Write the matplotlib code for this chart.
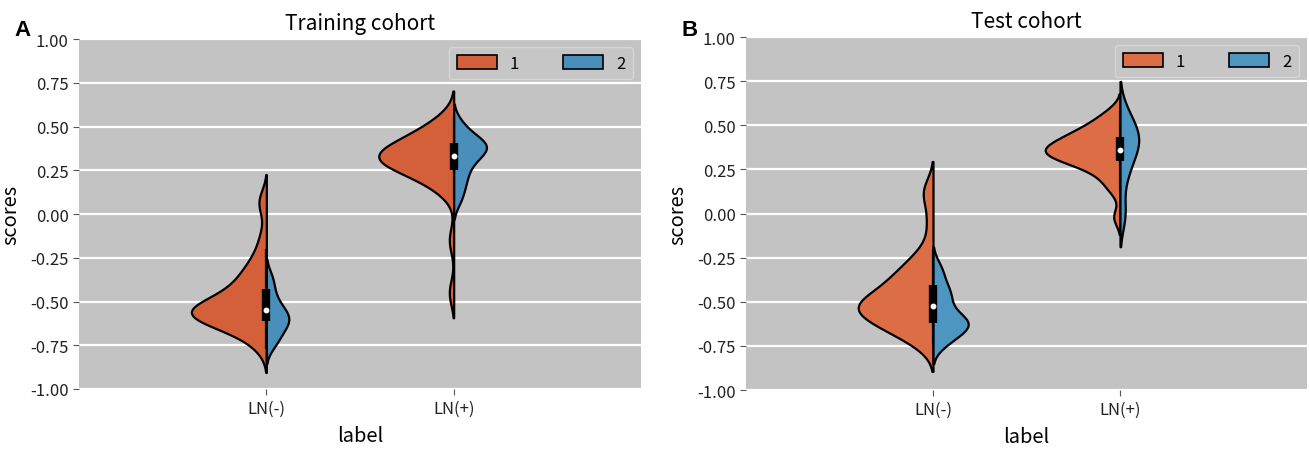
import numpy as np
import matplotlib
matplotlib.use("Agg")
from matplotlib import pyplot as plt
from matplotlib.patches import Patch

plt.rcParams["font.family"] = ["Noto Sans CJK SC", "DejaVu Sans"]
plt.rcParams["axes.unicode_minus"] = False

groups = ["LN(-)", "LN(+)"]
hue_labels = ["1", "2"]

# Training cohort scores (hue 1 / hue 2)
train_neg_1 = [-0.77, -0.72, -0.69, -0.67, -0.65, -0.64, -0.63, -0.62, -0.61, -0.60,
               -0.59, -0.58, -0.57, -0.56, -0.56, -0.55, -0.55, -0.54, -0.53, -0.52,
               -0.51, -0.50, -0.49, -0.48, -0.46, -0.45, -0.43, -0.41, -0.39, -0.37,
               -0.35, -0.32, -0.29, -0.26, -0.20, -0.12, 0.04, 0.09, -0.57, -0.58]
train_neg_2 = [-0.75, -0.71, -0.67, -0.64, -0.62, -0.60, -0.58, -0.56, -0.53, -0.49,
               -0.43, -0.36]
train_pos_1 = [-0.45, -0.15, 0.12, 0.16, 0.19, 0.21, 0.23, 0.25, 0.26, 0.27,
               0.28, 0.29, 0.30, 0.31, 0.32, 0.33, 0.33, 0.34, 0.35, 0.36,
               0.37, 0.38, 0.40, 0.41, 0.42, 0.43, 0.45, 0.47, 0.49, 0.52,
               0.56, 0.32]
train_pos_2 = [0.08, 0.15, 0.20, 0.25, 0.29, 0.32, 0.35, 0.37, 0.38, 0.39,
               0.41, 0.43, 0.46, 0.52]

# Test cohort scores (hue 1 / hue 2)
test_neg_1 = [-0.74, -0.71, -0.68, -0.66, -0.64, -0.63, -0.62, -0.60, -0.58, -0.57,
              -0.56, -0.55, -0.54, -0.53, -0.53, -0.52, -0.51, -0.50, -0.49, -0.47,
              -0.46, -0.44, -0.42, -0.40, -0.38, -0.36, -0.34, -0.32, -0.29, -0.25,
              -0.20, -0.05, 0.10, 0.14]
test_neg_2 = [-0.74, -0.71, -0.68, -0.66, -0.64, -0.62, -0.61, -0.59, -0.56, -0.52,
              -0.48, -0.45, -0.42, -0.36, -0.30, -0.62]
test_pos_1 = [-0.02, 0.13, 0.18, 0.22, 0.25, 0.27, 0.29, 0.30, 0.31, 0.32,
              0.33, 0.34, 0.35, 0.36, 0.36, 0.37, 0.38, 0.39, 0.40, 0.42,
              0.43, 0.44, 0.45, 0.47, 0.49, 0.51, 0.54, 0.58]
test_pos_2 = [0.00, 0.22, 0.33, 0.39, 0.43, 0.47, 0.56]

yticks = [1.00, 0.75, 0.50, 0.25, 0.00, -0.25, -0.50, -0.75, -1.00]


def kde(values, cut=2, gridsize=150, bw_adjust=0.75):
    v = np.asarray(values, dtype=float)
    bw = bw_adjust * v.std(ddof=1) * len(v) ** (-1 / 5)  # scott
    grid = np.linspace(v.min() - cut * bw, v.max() + cut * bw, gridsize)
    dens = np.exp(-0.5 * ((grid[:, None] - v[None, :]) / bw) ** 2).sum(axis=1)
    return grid, dens / dens.max()


def split_violin(ax, pos, left, right, colors, width=0.8):
    n_max = max(len(left), len(right))
    for vals, side, color in ((left, -1, colors[0]), (right, 1, colors[1])):
        y, d = kde(vals)
        w = d * width / 2 * len(vals) / n_max  # scale by count
        ax.fill_betweenx(y, pos, pos + side * w, facecolor=color,
                         edgecolor="black", linewidth=1.6, zorder=2)
    allv = np.concatenate([left, right])
    q1, med, q3 = np.percentile(allv, [25, 50, 75])
    iqr = q3 - q1
    lo = allv[allv >= q1 - 1.5 * iqr].min()
    hi = allv[allv <= q3 + 1.5 * iqr].max()
    ax.vlines(pos, lo, hi, color="black", lw=1.6, zorder=3)
    ax.vlines(pos, q1, q3, color="black", lw=6, zorder=3)
    ax.plot(pos, med, "o", color="white", ms=3.2, zorder=4)


def style_axes(ax, title, colors):
    ax.set_facecolor("#c3c3c3")
    for s in ax.spines.values():
        s.set_visible(False)
    ax.set_axisbelow(True)
    ax.yaxis.grid(True, color="white", lw=1.6)
    ax.set_xlim(-1, 2)
    ax.set_ylim(-1.0, 1.0)
    ax.set_yticks(yticks)
    ax.set_yticklabels([f"{t:.2f}" for t in yticks])
    ax.set_xticks(range(len(groups)))
    ax.set_xticklabels(groups)
    ax.tick_params(axis="both", length=4, width=0.8, color="#555555",
                   labelsize=12, labelcolor="#222222")
    ax.set_title(title, fontsize=15, pad=7)
    ax.set_xlabel("label", fontsize=14.5, labelpad=6)
    ax.set_ylabel("scores", fontsize=14.5, labelpad=6)
    handles = [Patch(facecolor=c, edgecolor="black", lw=1.2) for c in colors]
    leg = ax.legend(handles, hue_labels, loc="upper right", ncol=2, fontsize=12,
                    handlelength=2.4, handleheight=0.9, columnspacing=2.6,
                    frameon=True, fancybox=True, borderpad=0.45)
    leg.get_frame().set_facecolor("#c6c6c6")
    leg.get_frame().set_edgecolor("#d6d6d6")
    leg.get_frame().set_alpha(1)


fig = plt.figure(figsize=(13.09, 4.52), dpi=100)
ax1 = fig.add_axes([79 / 1309, 62 / 452, 562 / 1309, 350 / 452])
ax2 = fig.add_axes([746 / 1309, 61 / 452, 561 / 1309, 353 / 452])

train_colors = ["#d4603a", "#4a8fbb"]
test_colors = ["#dd6d45", "#4e96c2"]

split_violin(ax1, 0, train_neg_1, train_neg_2, train_colors)
split_violin(ax1, 1, train_pos_1, train_pos_2, train_colors)
split_violin(ax2, 0, test_neg_1, test_neg_2, test_colors)
split_violin(ax2, 1, test_pos_1, test_pos_2, test_colors)

style_axes(ax1, "Training cohort", train_colors)
style_axes(ax2, "Test cohort", test_colors)

fig.text(14 / 1309, 1 - 30 / 452, "A", fontsize=16, fontweight="bold",
         family="Liberation Sans", va="center")
fig.text(681 / 1309, 1 - 30 / 452, "B", fontsize=16, fontweight="bold",
         family="Liberation Sans", va="center")

fig.savefig("out.png", dpi=100)
